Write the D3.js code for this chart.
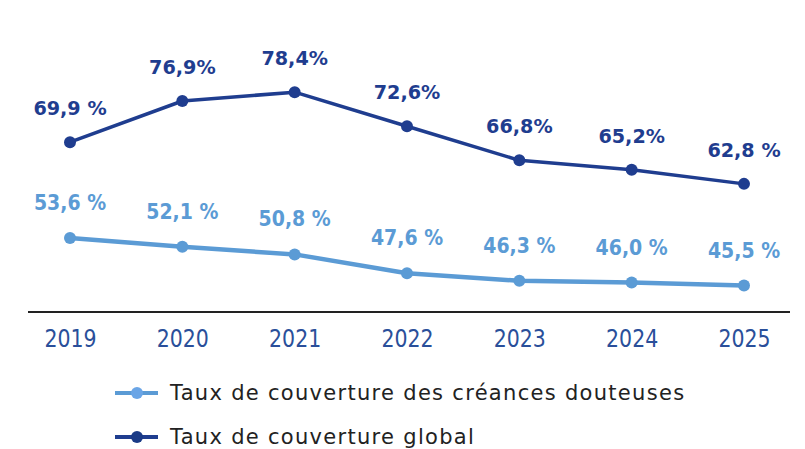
<!DOCTYPE html>
<html>
<head>
<meta charset="utf-8">
<script src="https://cdn.jsdelivr.net/npm/d3@7"></script>
<style>
  body { margin: 0; background: #fff; }
</style>
</head>
<body>
<div id="chart"></div>
<script>
let years = ["2019", "2020", "2021", "2022", "2023", "2024", "2025"];
let globalVals = [69.9, 76.9, 78.4, 72.6, 66.8, 65.2, 62.8];
let globalLabels = ["69,9 %", "76,9%", "78,4%", "72,6%", "66,8%", "65,2%", "62,8 %"];
let douteusesVals = [53.6, 52.1, 50.8, 47.6, 46.3, 46.0, 45.5];
let douteusesLabels = ["53,6 %", "52,1 %", "50,8 %", "47,6 %", "46,3 %", "46,0 %", "45,5 %"];
let legendNames = ["Taux de couverture des créances douteuses", "Taux de couverture global"];

let W = 805, H = 449;
let dark = "#1f3d8f", light = "#5b9bd5";

let svg = d3.select("#chart").append("svg")
    .attr("width", W)
    .attr("height", H);

let x = d3.scalePoint().domain(years).range([70, 744]);
let y = d3.scaleLinear().domain([41, 90]).range([312, 24]);

// x axis: base line + narrow year labels
let xAxis = d3.axisBottom(x).tickSize(0).tickPadding(0);
let gx = svg.append("g")
    .attr("transform", "translate(0,312)")
    .call(xAxis);
gx.select(".domain").remove();
gx.append("line")
    .attr("x1", 28).attr("x2", 790)
    .attr("stroke", "#222").attr("stroke-width", 2);
gx.selectAll(".tick text")
    .attr("y", 35)
    .attr("dy", null)
    .attr("transform", "scale(0.82,1)")
    .attr("fill", "#2a4f9a")
    .style("font-family", "'DejaVu Sans'")
    .style("font-size", "25px");

let line = d3.line()
    .x((d, i) => x(years[i]))
    .y(d => y(d));

function drawSeries(vals, labels, color, width, offset, size, sx) {
  svg.append("path")
      .datum(vals)
      .attr("fill", "none")
      .attr("stroke", color)
      .attr("stroke-width", width)
      .attr("stroke-linejoin", "round")
      .attr("d", line);

  svg.selectAll(null)
      .data(vals)
    .enter().append("circle")
      .attr("cx", (d, i) => x(years[i]))
      .attr("cy", d => y(d))
      .attr("r", 6)
      .attr("fill", color);

  svg.selectAll(null)
      .data(vals)
    .enter().append("text")
      .attr("transform", (d, i) => "translate(" + x(years[i]) + "," + (y(d) - offset) + ") scale(" + sx + ",1)")
      .attr("text-anchor", "middle")
      .attr("fill", color)
      .style("font-family", "'DejaVu Sans'")
      .style("font-weight", "bold")
      .style("font-size", size)
      .text((d, i) => labels[i]);
}

drawSeries(douteusesVals, douteusesLabels, light, 4.5, 28, "22px", 0.86);
drawSeries(globalVals, globalLabels, dark, 3.5, 27, "20px", 0.96);

// legend
let legend = svg.append("g");
let legendColors = ["#6aa5e6", "#1a3a86"];
let legendLines = ["#5b9bd5", "#1f3d8f"];
legendNames.forEach((name, i) => {
  let ly = 393 + i * 44;
  legend.append("line")
      .attr("x1", 115).attr("x2", 158)
      .attr("y1", ly).attr("y2", ly)
      .attr("stroke", legendLines[i]).attr("stroke-width", 4);
  legend.append("circle")
      .attr("cx", 137).attr("cy", ly).attr("r", 6)
      .attr("fill", legendColors[i]);
  legend.append("text")
      .attr("x", 170).attr("y", ly + 7)
      .attr("fill", "#222")
      .style("font-family", "'DejaVu Sans'")
      .style("font-size", "21px")
      .style("letter-spacing", "1.3px")
      .text(name);
});
</script>
</body>
</html>
